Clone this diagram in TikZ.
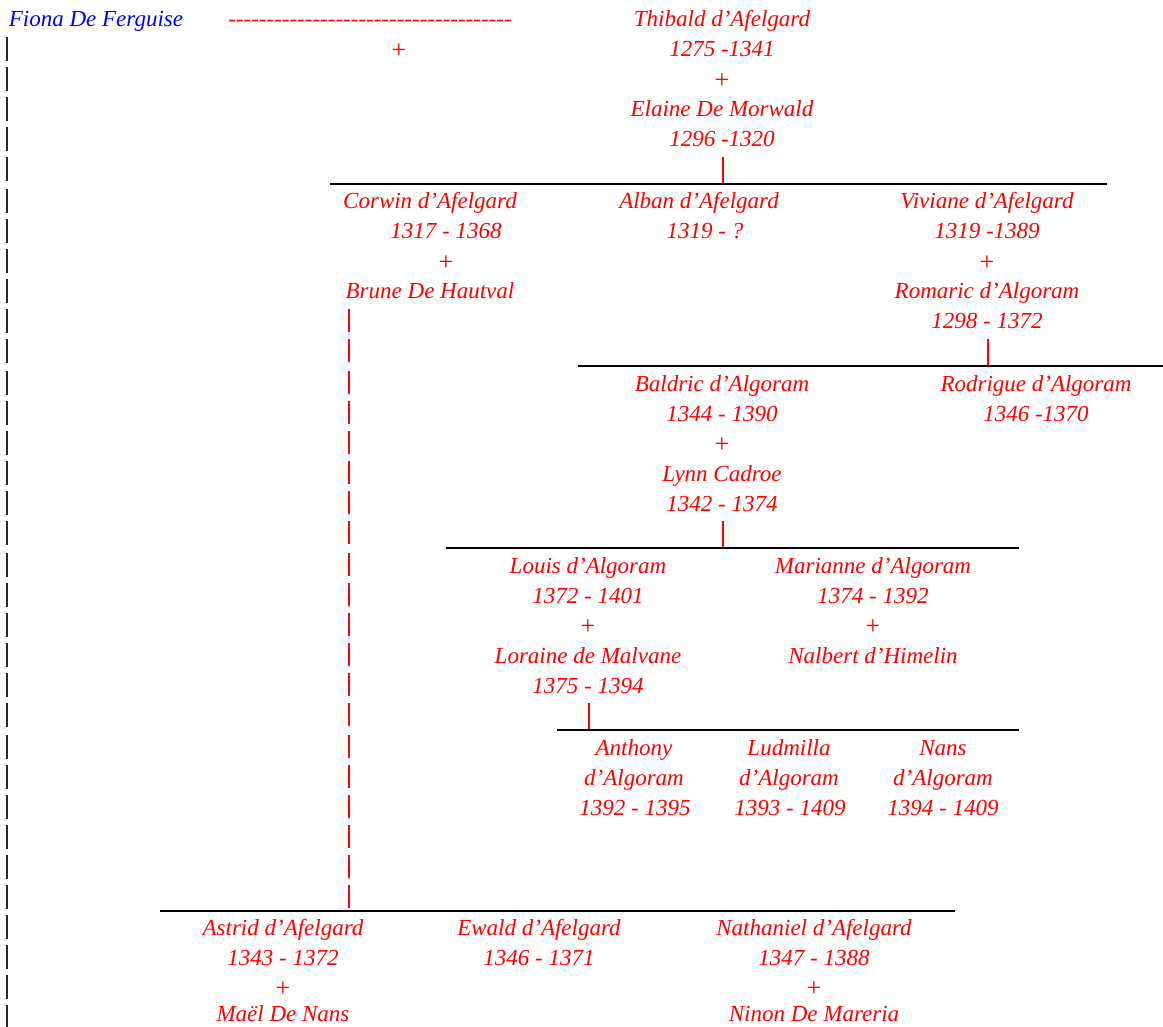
\documentclass[tikz,border=0pt]{standalone}
\usepackage{fontspec}
\setmainfont{Liberation Serif}
\newcommand\hy{\mbox{-}}
\tikzset{
  x=1pt, y=-1pt,
  p/.style={text=red, font=\fontsize{23}{27}\selectfont\itshape, inner sep=0pt, anchor=base},
  pb/.style={p, text=blue},
  pl/.style={text=red, font=\fontsize{26}{30}\selectfont, inner sep=0pt, anchor=center, yshift=-2pt},
  bar/.style={draw=black, line width=2.3pt},
  link/.style={draw=red, line width=1.3pt},
  side/.style={draw=black!85, line width=1.8pt}
}
\begin{document}
\begin{tikzpicture}
\useasboundingbox (0,0) rectangle (1163,1027);
% left column of bars
\foreach \r in {48,78,108,138,168,200,230,260,290,320,350,382,412,442,472,502,532,564,594,624,654,684,714,746,776,806,836,866,896,926,956,986,1016}
  \draw[side] (7,\r-11) -- (7,\r+13);
% generation 0
\node[pb] (fiona) at (96,27) {Fiona De Ferguise};
\node[p] (dashes) at (370,27) {\hy\hy\hy\hy\hy\hy\hy\hy\hy\hy\hy\hy\hy\hy\hy\hy\hy\hy\hy\hy\hy\hy\hy\hy\hy\hy\hy\hy\hy\hy\hy\hy\hy\hy\hy\hy\hy};
\node[pl] (plus0) at (399,49) {+};
\node[p] (thib) at (722,27) {Thibald d’Afelgard};
\node[p] (thibd) at (722,57) {1275 -1341};
\node[pl] (plus1) at (722,79) {+};
\node[p] (elaine) at (722,117) {Elaine De Morwald};
\node[p] (elained) at (722,147) {1296 -1320};
\coordinate (c1t) at (723,157);
\coordinate (l1a) at (330,184);
\coordinate (l1b) at (1107,184);
\coordinate (c1b) at (723,184);
\draw[link] (c1t) -- (c1b);
\draw[bar] (l1a) -- (l1b);
% generation 1
\node[p] (corwin) at (430,209) {Corwin d’Afelgard};
\node[p] (corwind) at (446,239) {1317 - 1368};
\node[pl] (plus2) at (446,261) {+};
\node[p] (brune) at (430,299) {Brune De Hautval};
\node[p] (alban) at (699,209) {Alban d’Afelgard};
\node[p] (aland) at (705,239) {1319 - ?};
\node[p] (viviane) at (987,209) {Viviane d’Afelgard};
\node[p] (vivd) at (987,239) {1319 -1389};
\node[pl] (plus3) at (987,261) {+};
\node[p] (romaric) at (987,299) {Romaric d’Algoram};
\node[p] (romd) at (987,329) {1298 - 1372};
\coordinate (c2t) at (988,339);
\coordinate (c2b) at (988,366);
\coordinate (l2a) at (578,366);
\coordinate (l2b) at (1163,366);
\draw[link] (c2t) -- (c2b);
\draw[bar] (l2a) -- (l2b);
% generation 2
\node[p] (baldric) at (722,391) {Baldric d’Algoram};
\node[p] (baldd) at (722,421) {1344 - 1390};
\node[pl] (plus4) at (722,443) {+};
\node[p] (lynn) at (722,481) {Lynn Cadroe};
\node[p] (lynnd) at (722,511) {1342 - 1374};
\node[p] (rodrigue) at (1036,391) {Rodrigue d’Algoram};
\node[p] (rodd) at (1036,421) {1346 -1370};
\coordinate (c3t) at (723,521);
\coordinate (c3b) at (723,548);
\coordinate (l3a) at (446,548);
\coordinate (l3b) at (1019,548);
\draw[link] (c3t) -- (c3b);
\draw[bar] (l3a) -- (l3b);
% generation 3
\node[p] (louis) at (588,573) {Louis d’Algoram};
\node[p] (louisd) at (588,603) {1372 - 1401};
\node[pl] (plus5) at (588,625) {+};
\node[p] (loraine) at (588,663) {Loraine de Malvane};
\node[p] (lord) at (588,693) {1375 - 1394};
\node[p] (marianne) at (873,573) {Marianne d’Algoram};
\node[p] (mard) at (873,603) {1374 - 1392};
\node[pl] (plus6) at (873,625) {+};
\node[p] (nalbert) at (873,663) {Nalbert d’Himelin};
\coordinate (c4t) at (589,703);
\coordinate (c4b) at (589,730);
\coordinate (l4a) at (557,730);
\coordinate (l4b) at (1019,730);
\draw[link] (c4t) -- (c4b);
\draw[bar] (l4a) -- (l4b);
% generation 4
\node[p] (anthony) at (634,755) {Anthony};
\node[p] (anthony2) at (634,785) {d’Algoram};
\node[p] (anthonyd) at (635,815) {1392 - 1395};
\node[p] (ludmilla) at (789,755) {Ludmilla};
\node[p] (ludmilla2) at (789,785) {d’Algoram};
\node[p] (ludmillad) at (790,815) {1393 - 1409};
\node[p] (nans) at (943,755) {Nans};
\node[p] (nans2) at (943,785) {d’Algoram};
\node[p] (nansd) at (943,815) {1394 - 1409};
% Corwin's line down
\foreach \r in {320,350,382,412,442,472,502,532,564,594,624,654,684,714,746,776,806,836,866,896}
  \draw[link] (349,\r-11) -- (349,\r+12);
\coordinate (l5a) at (160,911);
\coordinate (l5b) at (955,911);
\draw[bar] (l5a) -- (l5b);
% generation 2 (Corwin)
\node[p] (astrid) at (283,935) {Astrid d’Afelgard};
\node[p] (astridd) at (283,965) {1343 - 1372};
\node[pl] (plus7) at (283,987) {+};
\node[p] (mael) at (283,1021) {Maël De Nans};
\node[p] (ewald) at (539,935) {Ewald d’Afelgard};
\node[p] (ewaldd) at (539,965) {1346 - 1371};
\node[p] (nath) at (814,935) {Nathaniel d’Afelgard};
\node[p] (nathd) at (814,965) {1347 - 1388};
\node[pl] (plus8) at (814,987) {+};
\node[p] (ninon) at (814,1021) {Ninon De Mareria};
\end{tikzpicture}
\end{document}
